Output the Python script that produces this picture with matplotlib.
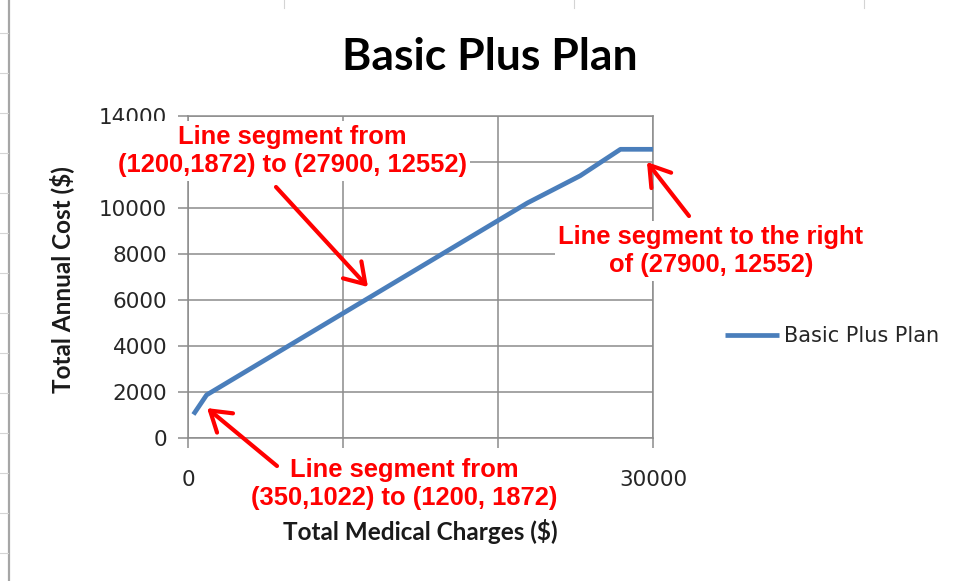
import matplotlib
matplotlib.use('Agg')
import matplotlib.pyplot as plt
from matplotlib.lines import Line2D
from matplotlib.patches import Rectangle

# data
charges = [350, 1200, 21900, 25300, 27900, 30000]
cost = [1022, 1872, 10220, 11400, 12552, 12552]
series_name = 'Basic Plus Plan'

x_ticks = [0, 10000, 20000, 30000]
x_labels = ['0', '', '', '30000']   # middle labels hidden behind the note box
y_ticks = [0, 2000, 4000, 6000, 8000, 10000, 12000, 14000]
y_labels = ['0', '2000', '4000', '6000', '8000', '10000', '', '14000']

W, H = 962, 581
fig = plt.figure(figsize=(W / 100, H / 100), dpi=100)
fig.patch.set_facecolor('white')


def px(x, y):
    # image pixel (top-left origin) -> figure fraction
    return x / W, 1 - y / H


# spreadsheet behind the chart: chart border and faint cell marks
fig.add_artist(Rectangle(px(9, 600), 1000, 600, transform=fig.transFigure,
                         fill=False, edgecolor='#a6a6a6', lw=1.6))
for yy in range(33, 581, 40):
    fig.add_artist(Line2D([0, 8 / W], [1 - yy / H] * 2, color='#d4d4d4', lw=0.8))
for xx in [284, 574, 864]:
    fig.add_artist(Line2D([xx / W] * 2, [1, 1 - 8 / H], color='#d4d4d4', lw=0.8))

ax = fig.add_axes([188 / W, 1 - 438 / H, (653 - 188) / W, (438 - 116) / H])

grid_c = '#8c8c8c'
ax.plot(charges, cost, color='#4a7ebb', lw=3.4, label=series_name,
        solid_joinstyle='round', solid_capstyle='butt', zorder=3)

ax.set_xlim(0, 30000)
ax.set_ylim(0, 14000)
ax.set_xticks(x_ticks, x_labels)
ax.set_yticks(y_ticks, y_labels)
ax.grid(True, color=grid_c, lw=1.1)
for s in ax.spines.values():
    s.set_color(grid_c)
    s.set_linewidth(1.1)
ax.tick_params(axis='x', direction='out', length=7, color=grid_c, width=1.1,
               labelsize=15.5, labelcolor='#262626', pad=16)
ax.tick_params(axis='y', direction='out', length=7, color=grid_c, width=1.1,
               labelsize=15.5, labelcolor='#262626', pad=8)
for lab in ax.get_xticklabels() + ax.get_yticklabels():
    lab.set_family('DejaVu Sans')

fig.text(490 / W, 1 - 57 / H, 'Basic Plus Plan', ha='center', va='center',
         fontsize=32, fontweight='bold', family='Lato', color='black')
fig.text(420 / W, 1 - 532 / H, 'Total Medical Charges ($)', ha='center', va='center',
         fontsize=17.5, fontweight='bold', family='Lato', color='#1a1a1a')
fig.text(62 / W, 1 - 280 / H, 'Total Annual Cost ($)', ha='center', va='center',
         rotation=90, fontsize=17.5, fontweight='bold', family='Lato', color='#1a1a1a')

leg = ax.legend(loc='center left', bbox_to_anchor=((717 - 188) / 465, (438 - 336) / 322),
                frameon=False, handlelength=2.6, handletextpad=0.2,
                prop={'family': 'DejaVu Sans', 'size': 15}, borderaxespad=0)
for t in leg.get_texts():
    t.set_color('#262626')

red = '#ff0000'
box = dict(boxstyle='square,pad=0.15', facecolor='white', edgecolor='none')
notes = [
    ('Line segment from\n(1200,1872) to (27900, 12552)', (292, 151), (11610, 6565), (276, 187)),
    ('Line segment to the right\nof (27900, 12552)', (711, 251), (29610, 12000), (689, 216)),
    ('Line segment from\n(350,1022) to (1200, 1872)', (404, 484), (1230, 1300), (277, 466)),
]
for txt, (tx, ty), tip, (ax_, ay_) in notes:
    ax.text(tx / W, 1 - ty / H, txt, transform=fig.transFigure, ha='center', va='center',
            fontsize=18.4, fontweight='bold', family='Liberation Sans', color=red,
            linespacing=1.2, bbox=box, zorder=10, clip_on=False)
    ax.annotate('', xy=tip, xycoords='data', xytext=px(ax_, ay_),
                textcoords='figure fraction', annotation_clip=False, zorder=11,
                arrowprops=dict(arrowstyle='->,head_length=0.7,head_width=0.45',
                                color=red, lw=3, mutation_scale=20,
                                shrinkA=0, shrinkB=0))

fig.savefig('out.png', dpi=100)
